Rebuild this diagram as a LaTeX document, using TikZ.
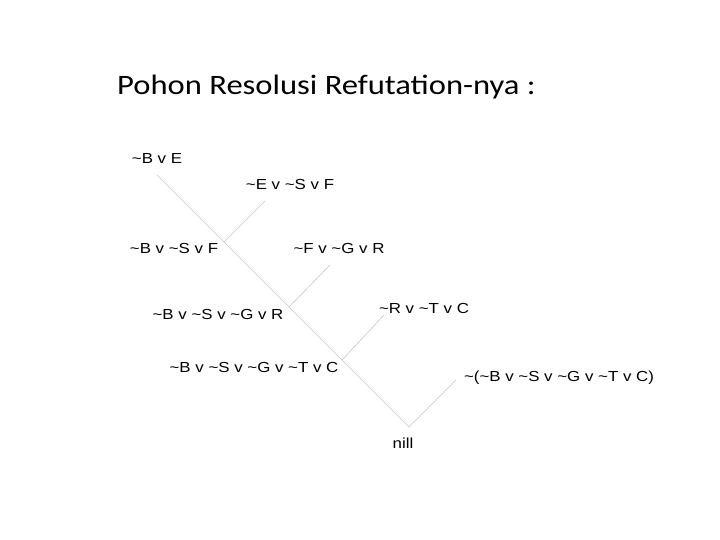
\documentclass[tikz,border=0pt]{standalone}
\usepackage{fontspec}
\setmainfont{Liberation Sans}
\newfontfamily\titlefont{Carlito}
\def\tl{\textasciitilde}
\tikzset{
	stretched/.style={xscale=1.16, transform shape},
	clause/.style={stretched, inner sep=0pt, font=\fontsize{14.6}{17}\selectfont},
	branch/.style={line width=0.6pt, color=black!22}
}

\begin{document}
\begin{tikzpicture}[x=1bp, y=-1bp]
		%%%%% START %%%%%
		\useasboundingbox[fill=white] (0, 0) rectangle (720, 540);
		
		\node[stretched, inner sep=0pt, anchor=base west, font=\titlefont\fontsize{28.2}{32}\selectfont] (title) at (117, 95) {Pohon Resolusi Refutation-nya :};
		
		\node[clause] (c1) at (157, 158) {\tl B v E};
		\node[clause] (c2) at (290, 184) {\tl E v \tl S v F};
		\node[clause] (r1) at (174, 248) {\tl B v \tl S v F};
		\node[clause] (c3) at (339, 248) {\tl F v \tl G v R};
		\node[clause] (r2) at (218, 314) {\tl B v \tl S v \tl G v R};
		\node[clause] (c4) at (424, 308) {\tl R v \tl T v C};
		\node[clause] (r3) at (254, 367) {\tl B v \tl S v \tl G v \tl T v C};
		\node[clause] (c5) at (559, 378) {\tl(\tl B v \tl S v \tl G v \tl T v C)};
		\node[clause] (nill) at (403, 443) {nill};
		
		\coordinate (top) at (157, 175);
		\coordinate (j1) at (224, 242);
		\coordinate (j2) at (289, 307);
		\coordinate (j3) at (342, 360);
		\coordinate (j4) at (409, 427);
		
		\coordinate (b1) at (265, 201);
		\coordinate (b2) at (330, 265);
		\coordinate (b3) at (384, 315);
		\coordinate (b4) at (456, 380);
		
		\draw[branch] (top) -- (j1) -- (j2) -- (j3) -- (j4);
		\draw[branch] (b1) -- (j1);
		\draw[branch] (b2) -- (j2);
		\draw[branch] (b3) -- (j3);
		\draw[branch] (b4) -- (j4);
		
		%%%%% END %%%%%
	\end{tikzpicture}
\end{document}
